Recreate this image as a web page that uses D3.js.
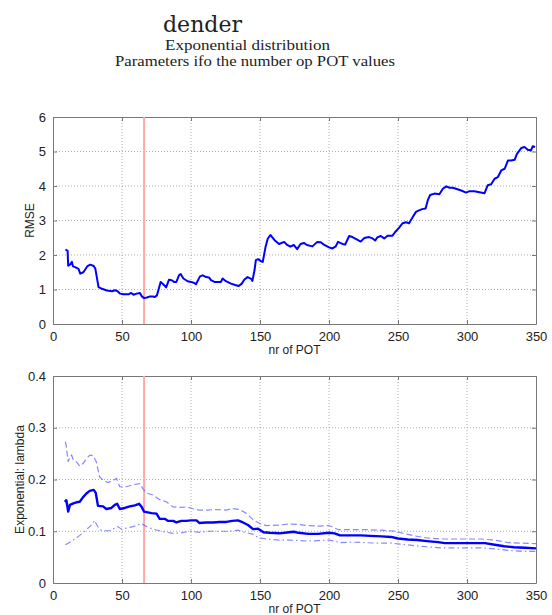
<!DOCTYPE html>
<html><head><meta charset="utf-8">
<script src="https://cdn.jsdelivr.net/npm/d3@7"></script>
<style>body{margin:0;background:#fff}svg{display:block}</style>
</head><body>
<script>
const titleMain = "dender";
const titleSub1 = "Exponential distribution";
const titleSub2 = "Parameters ifo the number op POT values";
const xLabel = "nr of POT";
const yLabelTop = "RMSE";
const yLabelBottom = "Exponential: lambda";
const xTicks = [0,50,100,150,200,250,300,350];
const yTicksTop = [0,1,2,3,4,5,6];
const yTicksBottom = [0,0.1,0.2,0.3,0.4];
const markerX = 66;

const rmseX = [9,10.6,11,12.5,13.7,14.5,16,18.5,19.7,22,25,27,29.5,30.7,33,35.5,39,42.7,45,46.8,48.7,51,54.7,56.6,58.3,60.7,63,64.4,66,68,70.4,72.4,73.6,75.3,77,78,79.7,82,84,86,87.7,89.4,91.3,92.5,94.5,97.5,100,102.4,103.6,106.5,108.5,111,113,114.5,117,119.2,121.7,122.9,125.3,129,132,134.6,136.8,138.7,141,143.6,144.5,146,147,148.7,150.7,152,154,155.6,157.5,160.6,163.8,167.5,169.7,172,174.5,176.9,179.4,181.8,184,188,191.5,194,196.3,200,202.5,204.9,206.5,209.7,211.7,214.6,217,220.7,223,225.5,229,231.6,233.5,235,237.5,240,242.5,246,247.8,251,253.3,255.8,258,260.7,263,265.6,267.5,270,271.6,273.3,276.4,280,282.5,285,287.3,289.7,292,295.8,299.4,301.8,305.4,309,312.7,315,317.5,320,322.4,324.8,327.3,329.7,332,334.5,336.2,339.3,341.7,344,346.4,347.6,349.3];
const rmseY = [2.16,2.12,1.69,1.73,1.8,1.67,1.65,1.6,1.46,1.5,1.68,1.72,1.68,1.6,1.07,1.02,0.97,0.95,0.98,0.95,0.88,0.86,0.86,0.9,0.85,0.88,0.9,0.8,0.75,0.77,0.8,0.8,0.78,0.83,1.07,1.22,1.16,1.06,1.28,1.27,1.22,1.22,1.41,1.45,1.32,1.24,1.22,1.19,1.15,1.38,1.41,1.36,1.35,1.27,1.22,1.22,1.22,1.32,1.24,1.17,1.13,1.1,1.17,1.29,1.36,1.31,1.25,1.55,1.85,1.88,1.82,1.8,2.23,2.47,2.58,2.43,2.32,2.38,2.29,2.24,2.29,2.17,2.32,2.35,2.29,2.25,2.38,2.37,2.3,2.22,2.19,2.25,2.38,2.32,2.3,2.55,2.52,2.44,2.39,2.49,2.52,2.48,2.42,2.51,2.55,2.48,2.56,2.56,2.66,2.8,2.92,2.95,2.92,3.1,3.25,3.3,3.33,3.35,3.59,3.74,3.78,3.76,3.92,3.99,3.95,3.95,3.92,3.87,3.81,3.85,3.85,3.82,3.79,4.02,4.05,4.21,4.26,4.45,4.5,4.74,4.74,4.76,4.93,5.1,5.13,5.05,5.03,5.15,5.13];

const lambdaX = [8.5,9.7,11,12.3,14.7,17,19.4,21.8,24.2,26.6,29.5,31,32.6,36.3,38.7,42.3,44.8,46.5,48.4,52,55.6,59.3,62.4,64,66,67.7,71.4,75,77.3,81,83.4,87,89.4,93,96.6,100,104,106,111,115.9,120.7,125.5,130,134,137.7,141.3,145,148.6,152.5,157,164,171,174.5,178,185,192,200,204,208,216,223,230,238,245,250,257,264,271,279,284,291,298,305,313,320,327,334,342,350];
const lambdaY = [0.157,0.16,0.138,0.151,0.154,0.156,0.157,0.166,0.173,0.178,0.18,0.174,0.149,0.148,0.143,0.145,0.151,0.153,0.143,0.145,0.148,0.15,0.153,0.148,0.138,0.137,0.135,0.134,0.124,0.124,0.12,0.12,0.117,0.12,0.12,0.121,0.121,0.116,0.117,0.117,0.118,0.118,0.12,0.121,0.117,0.112,0.104,0.105,0.098,0.097,0.096,0.098,0.099,0.097,0.095,0.095,0.097,0.096,0.092,0.092,0.092,0.091,0.09,0.089,0.086,0.084,0.083,0.081,0.079,0.077,0.077,0.077,0.077,0.077,0.074,0.071,0.069,0.068,0.067];

const upperX = [9,9.7,11,12.3,13.5,14.7,17,19.4,21.8,24.2,26.6,29,31.4,33.8,36.3,39.8,43.5,46,48.4,53,58,62.9,65,67.7,72.4,77.3,82,87,92,96.6,101,106,112,118,125.5,130,135,140,145,149.8,154.6,164,171,178,185,192,200,207,216,228,238,248,255,262,271,281,291,300,310,320,330,340,350];
const upperY = [0.273,0.263,0.234,0.244,0.247,0.238,0.234,0.226,0.231,0.24,0.247,0.246,0.234,0.205,0.199,0.194,0.198,0.202,0.186,0.186,0.19,0.192,0.183,0.174,0.17,0.161,0.157,0.147,0.146,0.147,0.144,0.141,0.141,0.142,0.141,0.144,0.142,0.135,0.122,0.115,0.111,0.112,0.114,0.113,0.111,0.11,0.111,0.103,0.103,0.103,0.102,0.1,0.095,0.091,0.087,0.085,0.085,0.085,0.085,0.083,0.078,0.077,0.076];

const lowerX = [9,11,14.7,19.4,24.2,29,30,31.6,33.8,37.4,41,44.8,47,49.6,53,58,61.7,64,67.7,72.4,77.3,82,87,93,99,106,113.6,120.7,128,134,139,145,148.6,154.6,164,171,178,185,192,200,204,208,216,226,235,245,253,262,271,281,291,300,310,320,330,340,350];
const lowerY = [0.074,0.077,0.083,0.092,0.103,0.115,0.121,0.113,0.103,0.101,0.101,0.106,0.109,0.104,0.106,0.109,0.112,0.115,0.109,0.104,0.101,0.098,0.096,0.097,0.1,0.098,0.1,0.1,0.1,0.102,0.098,0.094,0.088,0.085,0.083,0.083,0.082,0.081,0.082,0.083,0.081,0.078,0.079,0.078,0.077,0.077,0.075,0.072,0.07,0.068,0.068,0.068,0.068,0.066,0.063,0.061,0.061];

const W = 552, H = 615;
const svg = d3.select("body").append("svg").attr("width", W).attr("height", H);

// Titles
svg.append("text").attr("x", 163).attr("y", 32).attr("font-family", "'DejaVu Serif','Liberation Serif',serif")
  .attr("font-size", 23).attr("fill", "#222").attr("textLength", 79).attr("lengthAdjust", "spacingAndGlyphs").text(titleMain);
svg.append("text").attr("x", 165).attr("y", 50).attr("font-family", "'Liberation Serif',serif")
  .attr("font-size", 14).attr("fill", "#222").attr("textLength", 165).attr("lengthAdjust", "spacingAndGlyphs").text(titleSub1);
svg.append("text").attr("x", 115).attr("y", 66).attr("font-family", "'Liberation Serif',serif")
  .attr("font-size", 14).attr("fill", "#222").attr("textLength", 280).attr("lengthAdjust", "spacingAndGlyphs").text(titleSub2);

const left = 53, right = 536;
const x = d3.scaleLinear().domain([0, 350]).range([left, right]);

function panel(top, bottom, yDomain, yTicks, yFmt, yLabel, yLabelX) {
  const y = d3.scaleLinear().domain(yDomain).range([bottom, top]);
  const g = svg.append("g");
  // grid
  g.selectAll(".gx").data(xTicks.slice(1, -1)).join("line")
    .attr("x1", d => x(d)).attr("x2", d => x(d)).attr("y1", top).attr("y2", bottom)
    .attr("stroke", "#999").attr("stroke-width", 0.8).attr("stroke-dasharray", "1,2");
  g.selectAll(".gy").data(yTicks.slice(1, -1)).join("line")
    .attr("x1", left).attr("x2", right).attr("y1", d => y(d)).attr("y2", d => y(d))
    .attr("stroke", "#999").attr("stroke-width", 0.8).attr("stroke-dasharray", "1,2");
  // axes
  const ax = g.append("g").attr("transform", `translate(0,${bottom})`)
    .call(d3.axisBottom(x).tickValues(xTicks).tickSize(-4).tickPadding(8).tickSizeOuter(0));
  const axTop = g.append("g").attr("transform", `translate(0,${top})`)
    .call(d3.axisTop(x).tickValues(xTicks).tickSize(-4).tickFormat("").tickSizeOuter(0));
  const ay = g.append("g").attr("transform", `translate(${left},0)`)
    .call(d3.axisLeft(y).tickValues(yTicks).tickFormat(yFmt).tickSize(-4).tickPadding(7).tickSizeOuter(0));
  const ayR = g.append("g").attr("transform", `translate(${right},0)`)
    .call(d3.axisRight(y).tickValues(yTicks).tickSize(-4).tickFormat("").tickSizeOuter(0));
  [ax, axTop, ay, ayR].forEach(a => {
    a.selectAll("path").attr("stroke", "#777").attr("stroke-width", 1);
    a.selectAll("line").attr("stroke", "#777");
    a.selectAll("text").attr("font-family", "'Liberation Sans',Arial,sans-serif").attr("font-size", 13).attr("fill", "#222");
  });
  // labels
  g.append("text").attr("x", (left + right) / 2).attr("y", bottom + 30).attr("text-anchor", "middle")
    .attr("font-family", "'Liberation Sans',Arial,sans-serif").attr("font-size", 12).attr("fill", "#222").text(xLabel);
  g.append("text").attr("transform", `translate(${yLabelX},${(top + bottom) / 2}) rotate(-90)`).attr("text-anchor", "middle")
    .attr("font-family", "'Liberation Sans',Arial,sans-serif").attr("font-size", 12).attr("fill", "#222").text(yLabel);
  // marker
  g.append("line").attr("x1", x(markerX)).attr("x2", x(markerX)).attr("y1", top).attr("y2", bottom)
    .attr("stroke", "#ffa8a8").attr("stroke-width", 2);
  return { g, y };
}

const p1 = panel(117, 324, [0, 6], yTicksTop, d3.format("d"), yLabelTop, 34);
const line1 = d3.line().x((d, i) => x(rmseX[i])).y(d => p1.y(d));
p1.g.append("path").datum(rmseY).attr("d", line1).attr("fill", "none").attr("stroke", "#0000ff").attr("stroke-width", 2).attr("stroke-linejoin", "round");

const p2 = panel(376, 583, [0, 0.4], yTicksBottom, d => d === 0 ? "0" : d3.format(".1f")(d), yLabelBottom, 24);
const mk = xs => d3.line().x((d, i) => x(xs[i])).y(d => p2.y(d));
p2.g.append("path").datum(upperY).attr("d", mk(upperX)).attr("fill", "none").attr("stroke", "#6a6aff").attr("stroke-opacity", 0.8).attr("stroke-width", 1.2).attr("stroke-dasharray", "6,3");
p2.g.append("path").datum(lowerY).attr("d", mk(lowerX)).attr("fill", "none").attr("stroke", "#6a6aff").attr("stroke-opacity", 0.8).attr("stroke-width", 1.2).attr("stroke-dasharray", "6,3,1.5,3");
p2.g.append("path").datum(lambdaY).attr("d", mk(lambdaX)).attr("fill", "none").attr("stroke", "#0000ff").attr("stroke-width", 2.4).attr("stroke-linejoin", "round");
</script>
</body></html>
